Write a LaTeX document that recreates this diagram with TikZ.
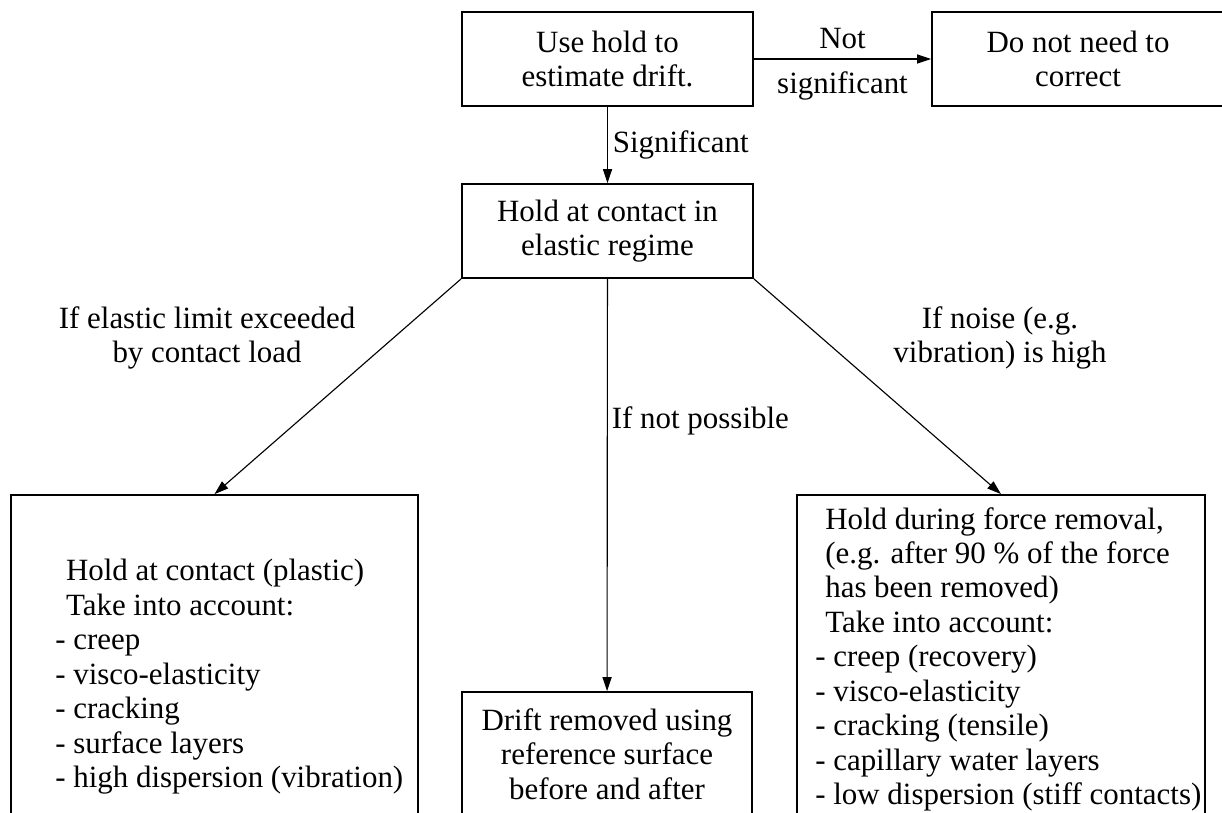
\documentclass[tikz,border=0pt]{standalone}
\usepackage{fontspec}
\setmainfont{Liberation Serif}
\usetikzlibrary{arrows.meta}

\begin{document}
\begin{tikzpicture}[x=0.025cm, y=-0.025cm, font=\fontsize{22}{24.5}\selectfont,
  box/.style={draw, line width=1.2pt, rectangle, align=center, inner sep=0pt},
  flow/.style={-{Triangle[length=10pt, width=6.5pt]}, line width=0.8pt},
  lbl/.style={align=center, inner sep=0pt},
  listtext/.style={align=left, inner sep=0pt, anchor=north west}]
\useasboundingbox (0,0) rectangle (1222,813);
\clip (0,0) rectangle (1222,813);

% top row
\node[box, minimum width=7.275cm, minimum height=2.35cm] (use) at (607.5,59) {Use hold to\\estimate drift.};
\node[box, minimum width=7.3cm, minimum height=2.35cm] (skip) at (1078,59) {Do not need to\\correct};
\node[box, minimum width=7.275cm, minimum height=2.35cm] (hold) at (607.5,231) {Hold at contact in\\elastic regime};

% bottom row (cut by the frame)
\node[box, minimum width=10.175cm, minimum height=8.625cm] (plastic) at (214.5,667.5) {};
\node[box, minimum width=7.25cm, minimum height=3.1cm] (drift) at (607,754) {Drift removed using\\reference surface\\before and after};
\node[box, minimum width=10.2cm, minimum height=8.625cm] (removal) at (1001,667.5) {};

\node[listtext] (plasticText) at (55,559) {\hspace*{0.27cm}Hold at contact (plastic)\\
  \hspace*{0.27cm}Take into account:\\
  - creep\\
  - visco-elasticity\\
  - cracking\\
  - surface layers\\
  - high dispersion (vibration)};
\node[listtext] (removalText) at (815,507) {\hspace*{0.25cm}Hold during force removal,\\
  \hspace*{0.25cm}(e.g. after 90 \% of the force\\
  \hspace*{0.25cm}has been removed)\\
  \hspace*{0.25cm}Take into account:\\
  - creep (recovery)\\
  - visco-elasticity\\
  - cracking (tensile)\\
  - capillary water layers\\
  - low dispersion (stiff contacts)};

% connectors
\draw[flow] (use) -- (skip) node[midway, above, inner sep=0.25cm] {Not} node[midway, below, inner sep=0.3cm] {significant};
\draw[flow] (use) -- (hold) node[midway, right, inner sep=0.12cm] {Significant};
\draw[flow] (hold.south west) -- (plastic.north);
\draw[flow] (hold) -- (drift) node[pos=0.345, right, inner sep=0.1cm] {If not possible};
\draw[flow] (hold.south east) -- (removal.north);

\node[lbl] (elasticLbl) at (207,338) {If elastic limit exceeded\\by contact load};
\node[lbl] (noiseLbl) at (1000,338) {If noise (e.g.\\vibration) is high};
\end{tikzpicture}
\end{document}
